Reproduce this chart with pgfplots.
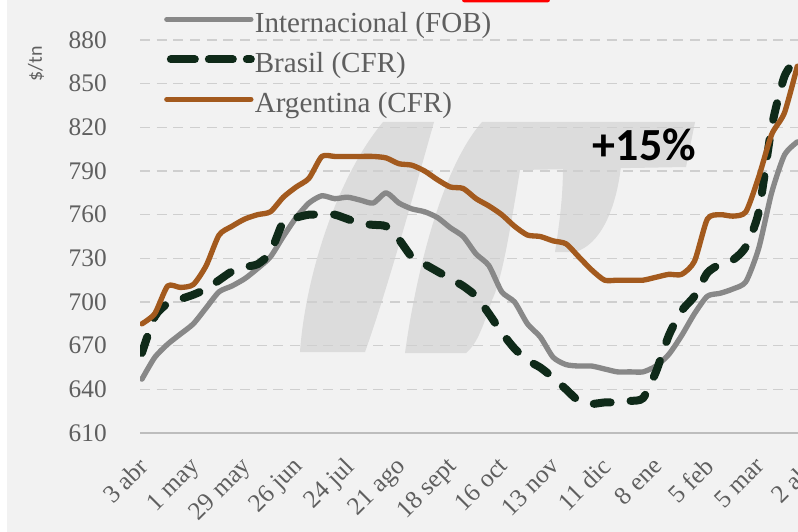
\documentclass[border=0pt]{standalone}
\usepackage{fontspec}
\setmainfont{Liberation Serif}
\newfontfamily\carlito{Carlito}
\usepackage{pgfplots}
\pgfplotsset{compat=1.18}
\definecolor{bg}{HTML}{F2F2F2}
\definecolor{txt}{HTML}{5F5F5F}
\definecolor{grd}{HTML}{CFCFCF}
\definecolor{axl}{HTML}{BDBDBD}
\definecolor{cint}{HTML}{888888}
\definecolor{cbra}{HTML}{0F2A19}
\definecolor{carg}{HTML}{A35A1E}
\definecolor{wm}{HTML}{DCDCDC}
\pgfplotsset{
  brasil legend/.style={legend image code/.code={\draw[##1, dash pattern=on 18pt off 10.5pt] (3pt,5pt) -- (63pt,5pt);}},
}
\begin{document}
\begin{tikzpicture}
\useasboundingbox (0,0) rectangle (598.5pt,-398.25pt);
\clip (0,0) rectangle (598.5pt,-398.25pt);
\begin{scope}[x=0.75pt,y=-0.75pt]
\fill[bg] (7,-5) rectangle (805,540);
\fill[red, rounded corners=2pt] (462,-10) rectangle (550,2.5);
% watermark (approximate)
\fill[wm] (383,122) -- (434,122) .. controls (412,200) and (387,290) .. (365,352) -- (300,352) .. controls (305,280) and (335,180) .. (383,122) -- cycle;
\fill[wm] (482,122) -- (695,122) -- (686,167) -- (520,170) .. controls (510,230) and (502,280) .. (492,300) .. controls (482,330) and (476,345) .. (466,353) -- (405,353) .. controls (415,280) and (440,170) .. (482,122) -- cycle;
\fill[wm] (563,166) -- (621,166) .. controls (616,210) and (600,245) .. (575,252) -- (555,252) .. controls (560,220) and (563,195) .. (563,166) -- cycle;
\node[rotate=90, font=\carlito\fontsize{15pt}{17pt}\selectfont, text=txt] at (36,64) {\$/tn};
\end{scope}
\begin{axis}[
  at={(105pt,-324.75pt)}, anchor=south west,
  scale only axis, width=512.25pt, height=294.75pt,
  xmin=-0.15, xmax=53, ymin=610, ymax=880,
  axis line style={draw=none},
  major tick length=0pt,
  ytick={640,670,...,880},
  extra y ticks={610},
  extra y tick style={grid style={solid, draw=axl, line width=1.5pt}},
  ymajorgrids,
  grid style={draw=grd, line width=1pt, dash pattern=on 7.5pt off 5pt},
  xtick={0,4,...,52},
  xticklabels={3 abr,1 may,29 may,26 jun,24 jul,21 ago,18 sept,16 oct,13 nov,11 dic,8 ene,5 feb,5 mar,2 abr},
  /pgf/number format/assume math mode=true,
  tick label style={font=\fontsize{19pt}{21pt}\selectfont, text=txt},
  yticklabel style={inner sep=0pt, xshift=-24.75pt},
  xticklabel style={inner sep=0pt, yshift=-17pt, xshift=-3.5pt, rotate=45, anchor=north east},
  legend style={at={(axis description cs:0.035,1.07)}, anchor=north west,
    draw=none, fill=none, inner sep=0pt, row sep=10pt,
    font=\fontsize{21.8pt}{23pt}\selectfont, text=txt,
    nodes={inner sep=0pt, text height=15pt, text depth=5pt}},
  legend cell align=left,
  legend image code/.code={\draw[#1] (0pt,5pt) -- (63pt,5pt);},
]
\addplot[cint, line width=4pt, smooth, tension=0.4, line join=round, line cap=round] coordinates {
(0,647)(1,662)(2,671)(3,678)(4,685)(5,696)(6,707)(7,711)(8,716)(9,723)(10,731)(11,745)(12,758)(13,768)(14,773)(15,771)(16,772)(17,770)(18,768)(19,775)(20,768)(21,764)(22,762)(23,758)(24,751)(25,745)(26,733)(27,725)(28,707)(29,700)(30,685)(31,676)(32,662)(33,657)(34,656)(35,656)(36,654)(37,652)(38,652)(39,652)(40,656)(41,664)(42,677)(43,692)(44,704)(45,706)(46,709)(47,714)(48,737)(49,775)(50,801)(51,810)};
\addlegendentry{Internacional (FOB)}
\addplot[cbra, line width=6pt, smooth, tension=0.4, line cap=round, dash pattern=on 12.75pt off 15pt, brasil legend] coordinates {
(0,665)(1,690)(2,699)(3,702)(4,705)(5,709)(6,715)(7,721)(8,724)(9,726)(10,734)(11,755)(12,758)(13,760)(14,760)(15,760)(16,757)(17,754)(18,753)(19,752)(20,743)(21,731)(22,726)(23,721)(24,716)(25,711)(26,704)(27,692)(28,679)(29,668)(30,660)(31,655)(32,648)(33,640)(34,632)(35,630)(36,631)(37,631)(38,632)(39,634)(40,652)(41,677)(42,694)(43,704)(44,720)(45,726)(46,729)(47,738)(48,762)(49,820)(50,855)(51,868)};
\addlegendentry{Brasil (CFR)}
\addplot[carg, line width=4pt, smooth, tension=0.4, line join=round, line cap=round] coordinates {
(0,685)(1,692)(2,711)(3,710)(4,712)(5,725)(6,746)(7,752)(8,757)(9,760)(10,762)(11,772)(12,779)(13,785)(14,800)(15,800)(16,800)(17,800)(18,800)(19,799)(20,795)(21,794)(22,790)(23,784)(24,779)(25,778)(26,771)(27,766)(28,760)(29,752)(30,746)(31,745)(32,742)(33,740)(34,731)(35,722)(36,715)(37,715)(38,715)(39,715)(40,717)(41,719)(42,719)(43,728)(44,757)(45,760)(46,759)(47,762)(48,786)(49,815)(50,830)(51,862)};
\addlegendentry{Argentina (CFR)}
\node[font=\carlito\bfseries\fontsize{34.5pt}{36pt}\selectfont, text=black] at (axis cs:39.1,808) {+15\%};
\end{axis}
\end{tikzpicture}
\end{document}
